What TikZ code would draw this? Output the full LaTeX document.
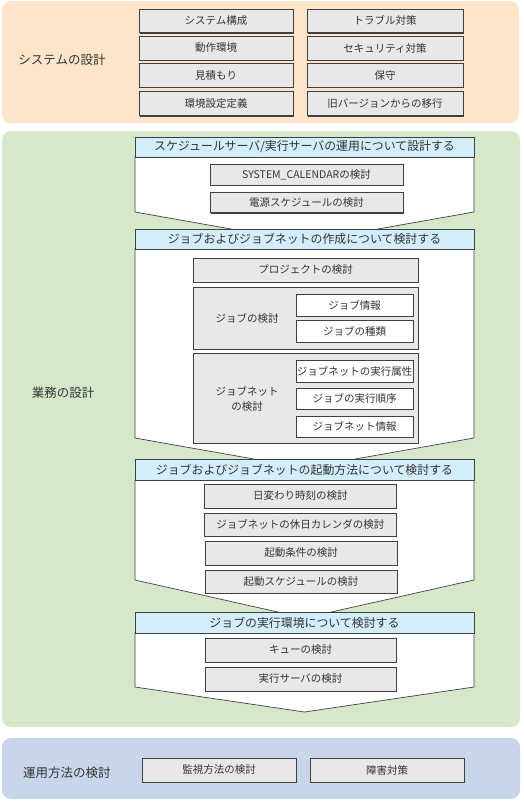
\documentclass[tikz,border=0pt]{standalone}
\usepackage{fontspec}
\setmainfont{Noto Sans CJK JP}
\usetikzlibrary{shadows}
\definecolor{pOrange}{HTML}{FCE5C9}
\definecolor{pGreen}{HTML}{D6E8CB}
\definecolor{pBlue}{HTML}{C8D6EC}
\definecolor{hdrBlue}{HTML}{D4EDFA}
\definecolor{boxGray}{HTML}{E8E8E8}
\definecolor{bd}{HTML}{404040}
\definecolor{txt}{HTML}{333333}
\newcommand\bxx[7]{\node[#2, minimum width={(#5-#3)*1pt}, minimum height={(#6-#4)*1pt}] (#1) at ({(#3+#5)/2},{(#4+#6)/2}) {#7};}
\begin{document}
\begin{tikzpicture}[x=1pt,y=-1pt,
  every node/.style={text=txt, inner sep=0pt, font=\fontsize{10.5}{12}\selectfont},
  gbox/.style={draw=bd, fill=boxGray, line width=0.7pt, drop shadow={shadow xshift=0.8pt, shadow yshift=-0.8pt, fill=bd, opacity=1}},
  grp/.style={draw=bd, fill=boxGray, line width=0.7pt},
  wbox/.style={draw=bd, fill=white, line width=0.7pt, drop shadow={shadow xshift=0.8pt, shadow yshift=-0.8pt, fill=bd, opacity=1}},
  hdr/.style={draw=bd, fill=hdrBlue, line width=0.7pt, font=\fontsize{11.9}{13}\selectfont},
  body/.style={draw=bd, fill=white, line width=0.7pt},
  lbl/.style={font=\fontsize{12.5}{14}\selectfont},
  panel/.style={draw=none, rounded corners=9pt}]
\useasboundingbox (0,0) rectangle (523,801);
% panels
\fill[pOrange, panel] (2,1) rectangle (519,123);
\fill[pGreen, panel] (2,131) rectangle (520,727);
\fill[pBlue, panel] (2,738) rectangle (520,799);

% system design
\node[lbl] (sys) at (62,60) {システムの設計};
\bxx{s1}{gbox}{139}{9}{293}{32.7}{システム構成}
\bxx{s2}{gbox}{139}{36}{293}{60}{動作環境}
\bxx{s3}{gbox}{139}{63.3}{293}{87.3}{見積もり}
\bxx{s4}{gbox}{139}{91.7}{293}{115.7}{環境設定定義}
\bxx{s5}{gbox}{307}{9}{463}{32.7}{トラブル対策}
\bxx{s6}{gbox}{307}{36}{463}{60}{セキュリティ対策}
\bxx{s7}{gbox}{307}{63.3}{463}{87.3}{保守}
\bxx{s8}{gbox}{307}{91.7}{463}{115.7}{旧バージョンからの移行}

% business design
\node[lbl] (biz) at (63,393) {業務の設計};

% section 1
\draw[body] (135,157) -- (474,157) -- (474,212) -- (304.5,242) -- (135,212) -- cycle;
\bxx{h1}{hdr}{135}{137}{474}{157}{スケジュールサーバ/実行サーバの運用について設計する}
\bxx{a1}{gbox}{210}{164}{403}{185}{SYSTEM\_CALENDARの検討}
\bxx{a2}{gbox}{210}{192}{403}{212.7}{電源スケジュールの検討}

% section 2
\draw[body] (135,249) -- (474,249) -- (474,438) -- (304.5,468) -- (135,438) -- cycle;
\bxx{h2}{hdr}{135}{229}{474}{249}{ジョブおよびジョブネットの作成について検討する}
\bxx{b1}{gbox}{193}{258}{418}{282}{プロジェクトの検討}
\bxx{bg1}{grp}{193}{287}{418}{349}{}
\node (bl1) at (247,318) {ジョブの検討};
\bxx{b2}{wbox}{296}{294}{413}{316}{ジョブ情報}
\bxx{b3}{wbox}{296}{320}{413}{342}{ジョブの種類}
\bxx{bg2}{grp}{193}{353}{418}{443}{}
\node[align=center, font=\fontsize{10.5}{15}\selectfont] (bl2) at (247,399) {ジョブネット\\の検討};
\bxx{b4}{wbox}{296}{360}{413}{382}{ジョブネットの実行属性}
\bxx{b5}{wbox}{296}{388}{413}{409}{ジョブの実行順序}
\bxx{b6}{wbox}{296}{416}{413}{437}{ジョブネット情報}

% section 3
\draw[body] (135,480) -- (474,480) -- (474,580) -- (304.5,618) -- (135,580) -- cycle;
\bxx{h3}{hdr}{135}{459}{474}{480}{ジョブおよびジョブネットの起動方法について検討する}
\bxx{c1}{gbox}{204}{484}{396.5}{508}{日変わり時刻の検討}
\bxx{c2}{gbox}{204}{513}{396.5}{536}{ジョブネットの休日カレンダの検討}
\bxx{c3}{gbox}{205}{541}{397}{565}{起動条件の検討}
\bxx{c4}{gbox}{205}{570}{397}{593}{起動スケジュールの検討}

% section 4
\draw[body] (135,633) -- (474,633) -- (474,687) -- (304.5,712) -- (135,687) -- cycle;
\bxx{h4}{hdr}{135}{612}{474}{633}{ジョブの実行環境について検討する}
\bxx{d1}{gbox}{205}{638}{396}{662}{キューの検討}
\bxx{d2}{gbox}{205}{667}{396}{691}{実行サーバの検討}

% operation
\node[lbl] (ops) at (67,773) {運用方法の検討};
\bxx{e1}{gbox}{142}{758}{296}{782}{監視方法の検討}
\bxx{e2}{gbox}{310}{758}{464}{782}{障害対策}
\end{tikzpicture}
\end{document}
